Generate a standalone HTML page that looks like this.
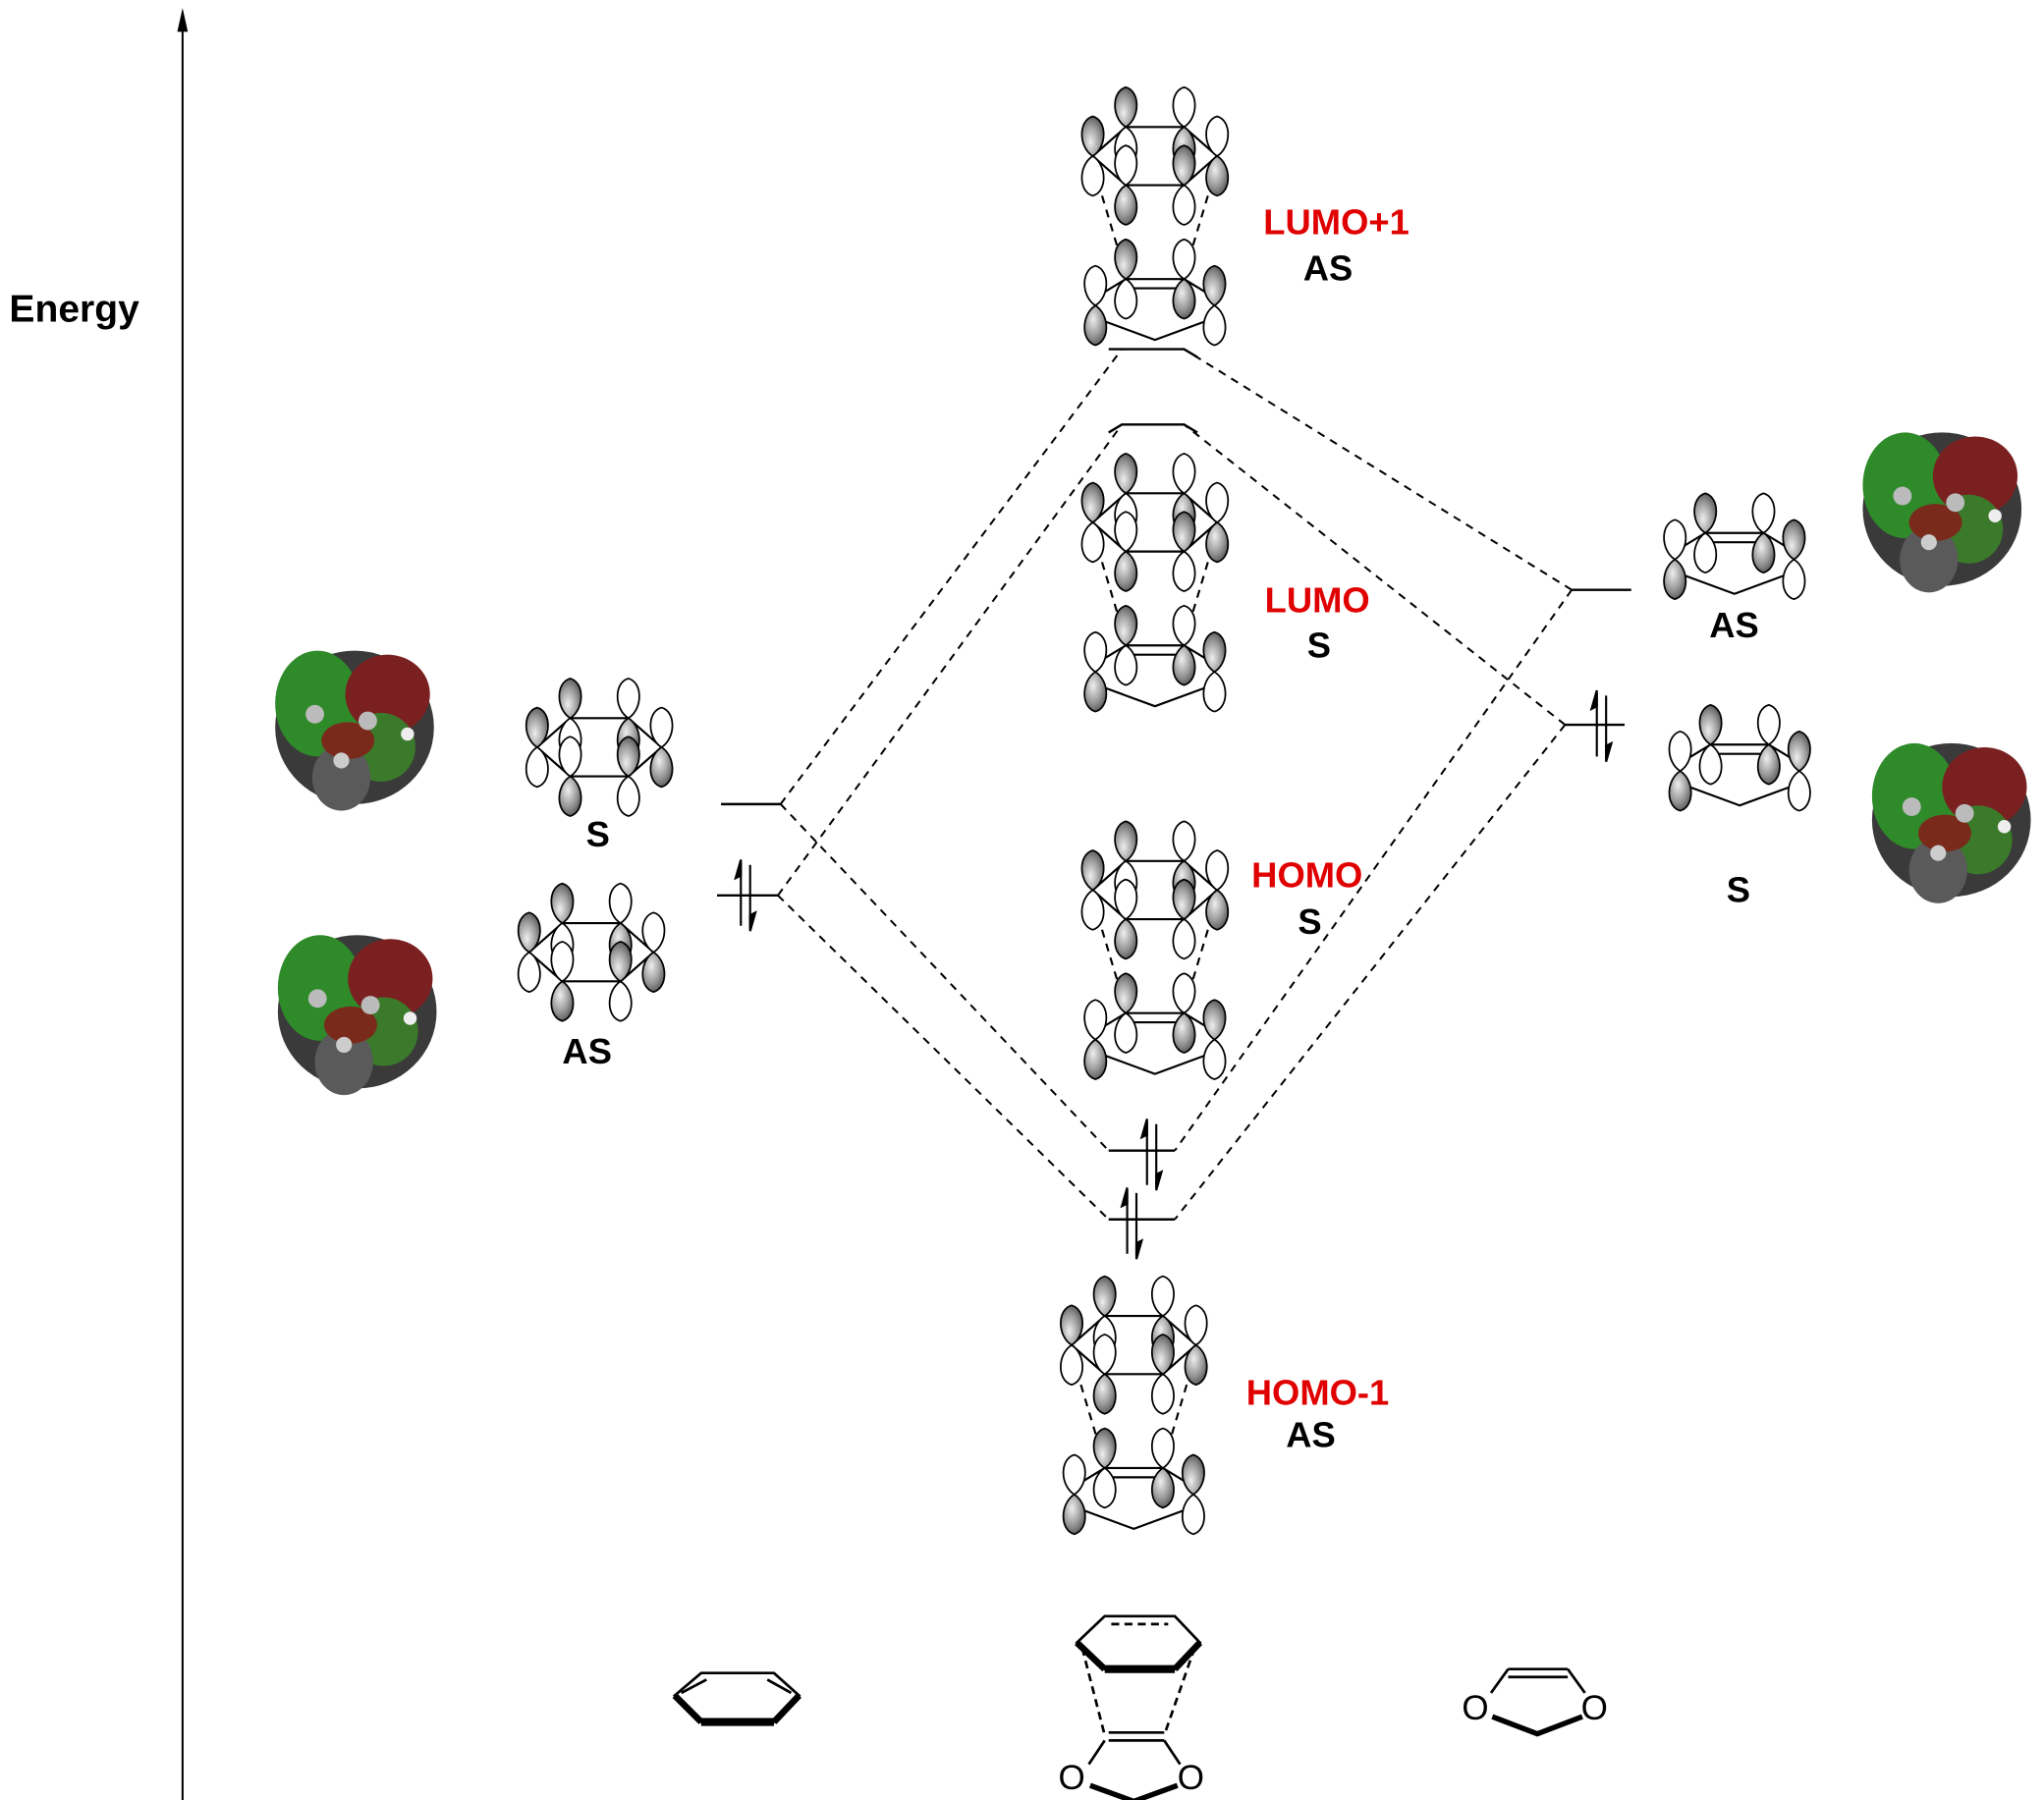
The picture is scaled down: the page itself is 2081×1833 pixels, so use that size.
<!DOCTYPE html>
<html><head><meta charset="utf-8"><style>
html,body{margin:0;padding:0;background:#fff;}
svg{display:block;}
text{font-family:"Liberation Sans",Arial,sans-serif;font-weight:bold;}
</style></head><body>
<svg width="2081" height="1833" viewBox="0 0 1545 1361" preserveAspectRatio="none" xmlns="http://www.w3.org/2000/svg">
<defs>
<radialGradient id="gl" cx="0.4" cy="0.35" r="0.7"><stop offset="0" stop-color="#eee"/><stop offset="0.6" stop-color="#999"/><stop offset="1" stop-color="#555"/></radialGradient>
<path id="ld" d="M0,0 C-11,7 -11,27 0,30 C11,27 11,7 0,0Z" fill="url(#gl)" stroke="#000" stroke-width="1.3"/>
<path id="lw" d="M0,0 C-11,7 -11,27 0,30 C11,27 11,7 0,0Z" fill="#fff" stroke="#000" stroke-width="1.3"/>
<g id="pGU"><use href="#lw"/><use href="#ld" transform="scale(1,-1)"/></g>
<g id="pWU"><use href="#ld"/><use href="#lw" transform="scale(1,-1)"/></g>
<g id="hex">
<polygon points="-22,-22 22,-22 47,0 22,22 -22,22 -47,0" fill="none" stroke="#000" stroke-width="1.6"/>
<use href="#pGU" x="-47" y="0"/><use href="#pWU" x="47" y="0"/>
<use href="#pGU" x="-22" y="-22"/><use href="#pWU" x="22" y="-22"/>
<use href="#pWU" x="-22" y="22"/><use href="#pGU" x="22" y="22"/>
</g>
<g id="pent">
<line x1="-22" y1="-12" x2="22" y2="-12" stroke="#000" stroke-width="1.6"/>
<line x1="-22" y1="-5" x2="22" y2="-5" stroke="#000" stroke-width="1.6"/>
<polyline points="-22,-12 -45,2" fill="none" stroke="#000" stroke-width="1.6"/>
<polyline points="22,-12 45,2" fill="none" stroke="#000" stroke-width="1.6"/>
<polyline points="-38,20 0,34 38,20" fill="none" stroke="#000" stroke-width="1.6"/>
<use href="#pGU" x="-22" y="-12"/><use href="#pWU" x="22" y="-12"/>
<use href="#pWU" x="-45" y="8"/><use href="#pGU" x="45" y="8"/>
</g>
<g id="stack">
<use href="#hex" x="0" y="0"/>
<line x1="-40" y1="30" x2="-25" y2="80" stroke="#000" stroke-width="1.6" stroke-dasharray="6,5"/>
<line x1="40" y1="30" x2="25" y2="80" stroke="#000" stroke-width="1.6" stroke-dasharray="6,5"/>
<use href="#pent" x="0" y="105"/>
</g>
<g id="blob">
<ellipse cx="0" cy="0" rx="60" ry="58" fill="#3a3a3a"/>
<ellipse cx="-28" cy="-18" rx="32" ry="40" fill="#2f8a2a"/>
<ellipse cx="25" cy="-25" rx="32" ry="30" fill="#7a2020"/>
<ellipse cx="20" cy="15" rx="26" ry="26" fill="#3a7a2a"/>
<ellipse cx="-10" cy="38" rx="22" ry="25" fill="#5a5a5a"/>
<ellipse cx="-5" cy="10" rx="20" ry="14" fill="#7a2a1a"/>
<circle cx="-30" cy="-10" r="7" fill="#bbb"/><circle cx="10" cy="-5" r="7" fill="#bbb"/>
<circle cx="-10" cy="25" r="6" fill="#ccc"/><circle cx="40" cy="5" r="5" fill="#eee"/>
</g>
</defs>

<line x1="138" y1="1373" x2="138" y2="14" stroke="#000" stroke-width="1.5"/>
<path d="M134,24 L138,6 L142,24Z" fill="#000"/>
<text x="7" y="243" font-size="29">Energy</text>

<g stroke="#000" stroke-width="1.8" fill="none">
<line x1="545" y1="608" x2="590" y2="608"/>
<line x1="542" y1="677" x2="588" y2="677"/>
<polyline points="838,264 848,264 895,264 905,270"/>
<polyline points="838,327 848,321 895,321 905,327"/>
<line x1="838" y1="870" x2="888" y2="870"/>
<line x1="838" y1="922" x2="888" y2="922"/>
<line x1="1188" y1="446" x2="1233" y2="446"/>
<line x1="1183" y1="548" x2="1228" y2="548"/>
</g>
<g stroke="#000" stroke-width="1.6">
<line x1="560" y1="652" x2="560" y2="700"/><path d="M560,650 L556,664 L560,662Z"/>
<line x1="567" y1="654" x2="567" y2="702"/><path d="M567,704 L571,690 L567,692Z"/>
<line x1="867" y1="848" x2="867" y2="896"/><path d="M867,846 L863,860 L867,858Z"/>
<line x1="874" y1="850" x2="874" y2="898"/><path d="M874,900 L878,886 L874,888Z"/>
<line x1="852" y1="900" x2="852" y2="948"/><path d="M852,898 L848,912 L852,910Z"/>
<line x1="859" y1="902" x2="859" y2="950"/><path d="M859,952 L863,938 L859,940Z"/>
<line x1="1207" y1="524" x2="1207" y2="572"/><path d="M1207,522 L1203,536 L1207,534Z"/>
<line x1="1214" y1="526" x2="1214" y2="574"/><path d="M1214,576 L1218,562 L1214,564Z"/>
</g>
<g stroke="#000" stroke-width="1.5" stroke-dasharray="6,5" fill="none">
<line x1="590" y1="608" x2="848" y2="264"/>
<line x1="590" y1="608" x2="838" y2="870"/>
<line x1="588" y1="677" x2="848" y2="321"/>
<line x1="588" y1="677" x2="838" y2="922"/>
<line x1="1188" y1="446" x2="895" y2="264"/>
<line x1="1188" y1="446" x2="888" y2="870"/>
<line x1="1183" y1="548" x2="895" y2="321"/>
<line x1="1183" y1="548" x2="888" y2="922"/>
</g>

<use href="#hex" x="453" y="565"/>
<use href="#hex" x="447" y="720"/>
<use href="#stack" x="873" y="118"/>
<use href="#stack" x="873" y="395"/>
<use href="#stack" x="873" y="673"/>
<use href="#stack" x="857" y="1017"/>
<use href="#pent" x="1311" y="415"/>
<use href="#pent" x="1315" y="575"/>

<use href="#blob" x="268" y="550"/>
<use href="#blob" x="270" y="765"/>
<use href="#blob" x="1468" y="385"/>
<use href="#blob" x="1475" y="620"/>

<g font-size="27">
<text x="955" y="177" fill="#e00000">LUMO+1</text>
<text x="985" y="212">AS</text>
<text x="956" y="463" fill="#e00000">LUMO</text>
<text x="988" y="497">S</text>
<text x="946" y="671" fill="#e00000">HOMO</text>
<text x="981" y="706">S</text>
<text x="942" y="1062" fill="#e00000">HOMO-1</text>
<text x="972" y="1094">AS</text>
<text x="443" y="640">S</text>
<text x="425" y="804">AS</text>
<text x="1292" y="482">AS</text>
<text x="1305" y="682">S</text>
</g>

<g stroke="#000" stroke-width="2" fill="none">
<polygon points="530,1265 585,1265 604,1282 585,1302 530,1302 510,1282"/>
<line x1="534" y1="1270" x2="515" y2="1280"/>
<line x1="580" y1="1270" x2="598" y2="1280"/>
<line x1="510" y1="1282" x2="530" y2="1302" stroke-width="5"/>
<line x1="530" y1="1302" x2="585" y2="1302" stroke-width="6"/>
<line x1="585" y1="1302" x2="604" y2="1282" stroke-width="5"/>

<polygon points="835,1222 888,1222 907,1242 888,1262 835,1262 814,1242"/>
<line x1="840" y1="1228" x2="883" y2="1228" stroke-dasharray="6,4"/>
<line x1="814" y1="1242" x2="835" y2="1262" stroke-width="5"/>
<line x1="835" y1="1262" x2="888" y2="1262" stroke-width="6"/>
<line x1="888" y1="1262" x2="907" y2="1242" stroke-width="5"/>
<line x1="818" y1="1246" x2="835" y2="1312" stroke-dasharray="6,4"/>
<line x1="903" y1="1246" x2="880" y2="1312" stroke-dasharray="6,4"/>
<line x1="838" y1="1310" x2="880" y2="1310"/>
<line x1="838" y1="1316" x2="880" y2="1316"/>
<line x1="835" y1="1316" x2="823" y2="1334"/>
<line x1="880" y1="1316" x2="892" y2="1334"/>
<polyline points="824,1350 857,1362 890,1350" stroke-width="4"/>

<line x1="1140" y1="1262" x2="1185" y2="1262"/>
<line x1="1140" y1="1268" x2="1185" y2="1268"/>
<line x1="1140" y1="1262" x2="1127" y2="1280"/>
<line x1="1185" y1="1262" x2="1198" y2="1280"/>
<polyline points="1128,1298 1162,1311 1196,1298" stroke-width="4"/>
</g>
<g font-size="26">
<text x="800" y="1353" style="font-weight:normal">O</text>
<text x="890" y="1353" style="font-weight:normal">O</text>
<text x="1105" y="1300" style="font-weight:normal">O</text>
<text x="1195" y="1300" style="font-weight:normal">O</text>
</g>
</svg>
</body></html>
